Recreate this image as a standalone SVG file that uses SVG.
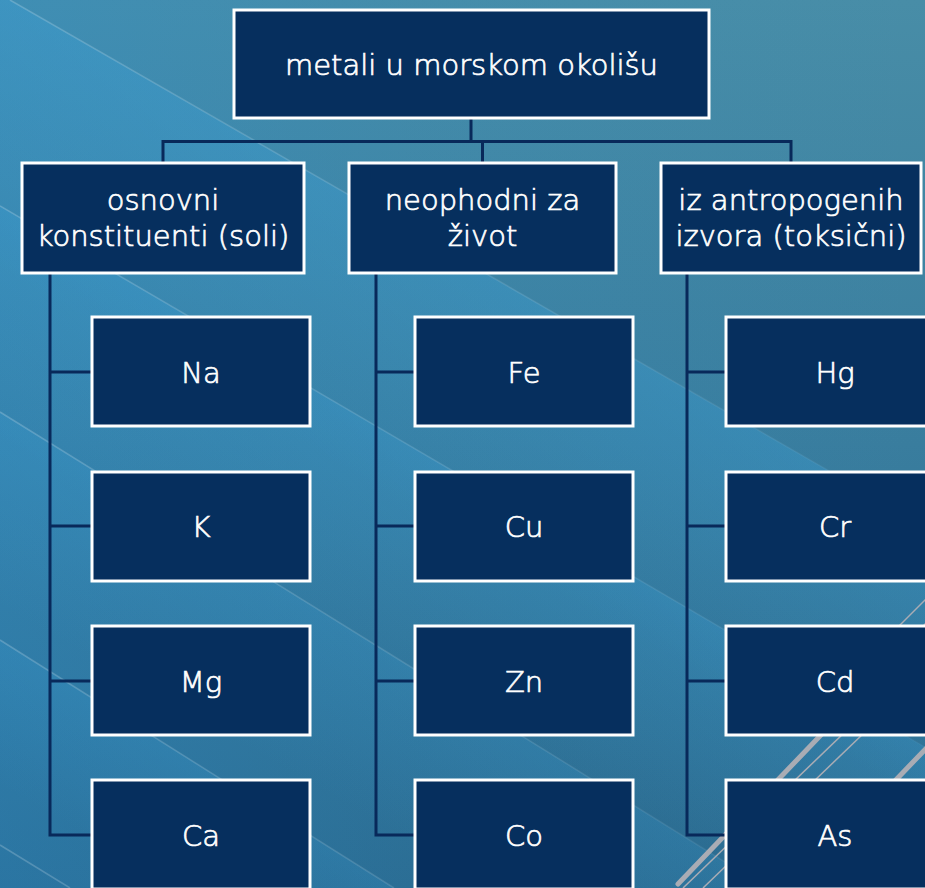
<svg xmlns="http://www.w3.org/2000/svg" width="925" height="888" viewBox="0 0 925 888">
<defs>
<linearGradient id="bg" x1="0" y1="0" x2="0" y2="888" gradientUnits="userSpaceOnUse">
<stop offset="0" stop-color="#488da7"/>
<stop offset="0.5" stop-color="#397d9e"/>
<stop offset="1" stop-color="#2b6a8e"/>
</linearGradient>
<linearGradient id="leftTint" x1="0" y1="0" x2="925" y2="0" gradientUnits="userSpaceOnUse">
<stop offset="0" stop-color="#2a90d2" stop-opacity="0.3"/>
<stop offset="0.45" stop-color="#2a90d2" stop-opacity="0.1"/>
<stop offset="1" stop-color="#2a90d2" stop-opacity="0"/>
</linearGradient>
<linearGradient id="band1" x1="300" y1="167" x2="180" y2="375" gradientUnits="userSpaceOnUse">
<stop offset="0" stop-color="#3aa2dc" stop-opacity="0.32"/>
<stop offset="1" stop-color="#3aa2dc" stop-opacity="0"/>
</linearGradient>
<linearGradient id="band2" x1="300" y1="381" x2="200" y2="555" gradientUnits="userSpaceOnUse">
<stop offset="0" stop-color="#3aa2dc" stop-opacity="0.28"/>
<stop offset="1" stop-color="#3aa2dc" stop-opacity="0"/>
</linearGradient>
<linearGradient id="band3" x1="200" y1="536" x2="120" y2="676" gradientUnits="userSpaceOnUse">
<stop offset="0" stop-color="#3aa2dc" stop-opacity="0.22"/>
<stop offset="1" stop-color="#3aa2dc" stop-opacity="0"/>
</linearGradient>
<linearGradient id="band4" x1="150" y1="734" x2="90" y2="838" gradientUnits="userSpaceOnUse">
<stop offset="0" stop-color="#3aa2dc" stop-opacity="0.2"/>
<stop offset="1" stop-color="#3aa2dc" stop-opacity="0"/>
</linearGradient>
<linearGradient id="fadeRight" x1="0" y1="0" x2="925" y2="0" gradientUnits="userSpaceOnUse">
<stop offset="0" stop-color="#ffffff" stop-opacity="0.2"/>
<stop offset="0.6" stop-color="#ffffff" stop-opacity="0.1"/>
<stop offset="1" stop-color="#ffffff" stop-opacity="0.03"/>
</linearGradient>
<style>
.box{fill:#062f5e;stroke:#ffffff;stroke-width:3}
.lbl{fill:#ffffff;stroke:#ffffff;stroke-width:0.7;font-family:"DejaVu Sans","Liberation Sans",sans-serif;font-weight:200;font-size:29px;text-anchor:middle}
.conn{fill:none;stroke:#08295a;stroke-width:3}
.streak{fill:none;stroke:url(#fadeRight);stroke-width:1.5}
.deco-thick{stroke:#a9acb4;stroke-width:5;stroke-linecap:round}
.deco-thin{stroke:#a9acb4;stroke-width:1.5}
</style>
</defs>

<g id="background">
<rect x="0" y="0" width="925" height="888" fill="url(#bg)"/>
<rect x="0" y="0" width="925" height="888" fill="url(#leftTint)"/>
<polygon points="10,0 925,526 925,888 0,888 0,0" fill="url(#band1)"/>
<polygon points="0,206 925,747 925,888 0,888" fill="url(#band2)"/>
<polygon points="0,412 767,888 0,888" fill="url(#band3)"/>
<polygon points="0,640 394,888 0,888" fill="url(#band4)"/>
<line class="streak" x1="10" y1="0" x2="925" y2="526"/>
<line class="streak" x1="0" y1="206" x2="925" y2="747"/>
<line class="streak" x1="0" y1="412" x2="767" y2="888"/>
<line class="streak" x1="0" y1="640" x2="394" y2="888"/>
<line class="streak" x1="0" y1="845" x2="70" y2="888"/>
<line class="deco-thick" x1="678" y1="884" x2="960" y2="590"/>
<line class="deco-thick" x1="800" y1="880" x2="960" y2="713"/>
<line class="deco-thin" x1="683" y1="888" x2="982" y2="600"/>
<line class="deco-thin" x1="703" y1="888" x2="1002" y2="600"/>
<line class="deco-thin" x1="860" y1="665" x2="940" y2="585"/>
</g>

<g id="connectors">
<polyline class="conn" points="471,118 471,141.5"/>
<polyline class="conn" points="163,163 163,141.5 791,141.5 791,163"/>
<polyline class="conn" points="482.5,141.5 482.5,163"/>
<polyline class="conn" points="50,273 50,835 92,835"/>
<polyline class="conn" points="50,372 92,372"/>
<polyline class="conn" points="50,526 92,526"/>
<polyline class="conn" points="50,681 92,681"/>
<polyline class="conn" points="376,273 376,835 415,835"/>
<polyline class="conn" points="376,372 415,372"/>
<polyline class="conn" points="376,526 415,526"/>
<polyline class="conn" points="376,681 415,681"/>
<polyline class="conn" points="687,273 687,835 726,835"/>
<polyline class="conn" points="687,372 726,372"/>
<polyline class="conn" points="687,526 726,526"/>
<polyline class="conn" points="687,681 726,681"/>
</g>

<g id="root">
<rect class="box" x="234" y="10" width="475" height="108"/>
<text class="lbl" x="471.5" y="75">metali u morskom okolišu</text>
</g>

<g id="osnovni">
<rect class="box" x="22" y="163" width="282" height="110"/>
<text class="lbl" x="163" y="210">osnovni</text>
<text class="lbl" x="163" y="246">konstituenti (soli)</text>
</g>
<g id="neophodni">
<rect class="box" x="349" y="163" width="267" height="110"/>
<text class="lbl" x="482.5" y="210">neophodni za</text>
<text class="lbl" x="482.5" y="246">život</text>
</g>
<g id="antropogeni">
<rect class="box" x="661" y="163" width="260" height="110"/>
<text class="lbl" x="791" y="210">iz antropogenih</text>
<text class="lbl" x="791" y="246">izvora (toksični)</text>
</g>

<g id="Na"><rect class="box" x="92" y="317" width="218" height="109"/><text class="lbl" x="201" y="382.5">Na</text></g>
<g id="K"><rect class="box" x="92" y="472" width="218" height="109"/><text class="lbl" x="201" y="537">K</text></g>
<g id="Mg"><rect class="box" x="92" y="626" width="218" height="109"/><text class="lbl" x="201" y="691.5">Mg</text></g>
<g id="Ca"><rect class="box" x="92" y="780" width="218" height="109"/><text class="lbl" x="201" y="845.5">Ca</text></g>

<g id="Fe"><rect class="box" x="415" y="317" width="218" height="109"/><text class="lbl" x="524" y="382.5">Fe</text></g>
<g id="Cu"><rect class="box" x="415" y="472" width="218" height="109"/><text class="lbl" x="524" y="537">Cu</text></g>
<g id="Zn"><rect class="box" x="415" y="626" width="218" height="109"/><text class="lbl" x="524" y="691.5">Zn</text></g>
<g id="Co"><rect class="box" x="415" y="780" width="218" height="109"/><text class="lbl" x="524" y="845.5">Co</text></g>

<g id="Hg"><rect class="box" x="726" y="317" width="218" height="109"/><text class="lbl" x="835" y="382.5">Hg</text></g>
<g id="Cr"><rect class="box" x="726" y="472" width="218" height="109"/><text class="lbl" x="835" y="537">Cr</text></g>
<g id="Cd"><rect class="box" x="726" y="626" width="218" height="109"/><text class="lbl" x="835" y="691.5">Cd</text></g>
<g id="As"><rect class="box" x="726" y="780" width="218" height="109"/><text class="lbl" x="835" y="845.5">As</text></g>
</svg>
